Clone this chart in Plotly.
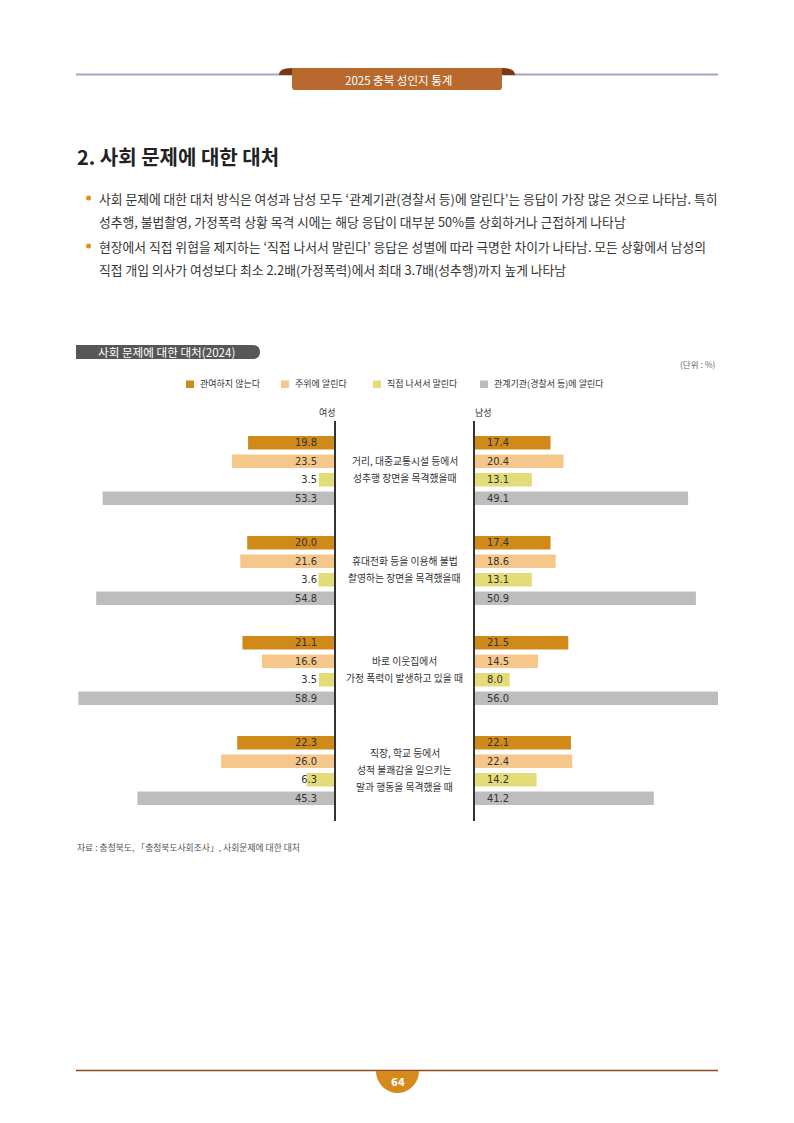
import plotly.graph_objects as go

# data (단위 : %)
situations = [
    "거리, 대중교통시설 등에서<br>성추행 장면을 목격했을때",
    "휴대전화 등을 이용해 불법<br>촬영하는 장면을 목격했을때",
    "바로 이웃집에서<br>가정 폭력이 발생하고 있을 때",
    "직장, 학교 등에서<br>성적 불쾌감을 일으키는<br>말과 행동을 목격했을 때",
]
responses = ["관여하지 않는다", "주위에 알린다", "직접 나서서 말린다", "관계기관(경찰서 등)에 알린다"]

women_none = [19.8, 20.0, 21.1, 22.3]
women_tell = [23.5, 21.6, 16.6, 26.0]
women_direct = [3.5, 3.6, 3.5, 6.3]
women_agency = [53.3, 54.8, 58.9, 45.3]

men_none = [17.4, 17.4, 21.5, 22.1]
men_tell = [20.4, 18.6, 14.5, 22.4]
men_direct = [13.1, 13.1, 8.0, 14.2]
men_agency = [49.1, 50.9, 56.0, 41.2]

women = [women_none, women_tell, women_direct, women_agency]
men = [men_none, men_tell, men_direct, men_agency]
colors = ["#d08a1a", "#f5c78b", "#e4dc78", "#bdbdbd"]

PAGE_W, PAGE_H = 794, 1123
OFF = 8  # the browser's body margin
W, H = PAGE_W - OFF, PAGE_H - OFF
KR = "Noto Sans CJK KR"
NUM = "DejaVu Sans Condensed"


def px(x):
    return (x - OFF) / W


def py(y):
    return 1 - (y - OFF) / H


def path(points):
    # points in page pixels -> paper path
    out = []
    for cmd, *xy in points:
        coords = " ".join(f"{px(xy[i]):.5f},{py(xy[i + 1]):.5f}" for i in range(0, len(xy), 2))
        out.append(f"{cmd}{coords}")
    return " ".join(out) + " Z"


fig = go.Figure()

PX_PER = 4.34  # pixels per percent
LEFT_AXIS, RIGHT_AXIS = 334, 475
LABEL_L, LABEL_R = 14 / PX_PER, 9 / PX_PER  # label carriers

for i in range(4):
    fig.add_trace(go.Bar(
        y=situations, x=women[i], orientation="h", marker_color=colors[i],
        marker_line_width=0, offsetgroup=str(i), xaxis="x", yaxis="y",
        showlegend=False, hoverinfo="skip",
    ))
    fig.add_trace(go.Bar(
        y=situations, x=men[i], orientation="h", marker_color=colors[i],
        marker_line_width=0, offsetgroup=str(i), xaxis="x2", yaxis="y2",
        showlegend=False, hoverinfo="skip",
    ))
for i in range(4):
    fig.add_trace(go.Bar(
        y=situations, x=[LABEL_L] * len(situations), orientation="h",
        marker_color="rgba(0,0,0,0)", marker_line_width=0, offsetgroup=str(i),
        xaxis="x", yaxis="y",
        text=[f"{v:.1f}" for v in women[i]], textposition="outside",
        textangle=0, constraintext="none", cliponaxis=False,
        textfont=dict(family=NUM, size=11, color="#333333"),
        showlegend=False, hoverinfo="skip",
    ))
    fig.add_trace(go.Bar(
        y=situations, x=[LABEL_R] * len(situations), orientation="h",
        marker_color="rgba(0,0,0,0)", marker_line_width=0, offsetgroup=str(i),
        xaxis="x2", yaxis="y2",
        text=[f"{v:.1f}" for v in men[i]], textposition="outside",
        textangle=0, constraintext="none", cliponaxis=False,
        textfont=dict(family=NUM, size=11, color="#333333"),
        showlegend=False, hoverinfo="skip",
    ))

ydom = [py(820.5), py(420.5)]
axis_common = dict(showgrid=False, zeroline=False, showticklabels=False, fixedrange=True)

fig.update_layout(
    width=W, height=H,
    margin=dict(l=0, r=0, t=0, b=0),
    paper_bgcolor="white", plot_bgcolor="rgba(0,0,0,0)",
    barmode="group", bargap=0.26, bargroupgap=0.27,
    font=dict(family=KR, color="#333333"),
    xaxis=dict(domain=[0, px(LEFT_AXIS)], range=[(LEFT_AXIS - OFF) / PX_PER, 0], **axis_common),
    xaxis2=dict(domain=[px(RIGHT_AXIS), 1], range=[0, (PAGE_W - RIGHT_AXIS) / PX_PER], **axis_common),
    yaxis=dict(domain=ydom, type="category", autorange="reversed", anchor="x", side="right",
               showline=True, linecolor="#333333", linewidth=1.5, ticks="", **axis_common),
    yaxis2=dict(domain=ydom, type="category", autorange="reversed", anchor="x2", side="left",
                showline=True, linecolor="#333333", linewidth=1.5, ticks="", **axis_common),
)

shapes = []
ann = []


def note(text, x, y, size, color="#333333", xanchor="center", **kw):
    ann.append(dict(text=text, x=px(x), y=py(y), xref="paper", yref="paper", xanchor=xanchor,
                    yanchor="middle", showarrow=False, font=dict(size=size, color=color, **kw)))


def shape(**kw):
    kw.setdefault("xref", "paper")
    kw.setdefault("yref", "paper")
    kw.setdefault("layer", "below")
    shapes.append(kw)


# page header
shape(type="line", x0=px(76), x1=px(718), y0=py(74.5), y1=py(74.5), line=dict(color="#a7a3c3", width=2))
shape(type="path", line_width=0, fillcolor="#7a3810",
      path=path([("M", 279, 75), ("Q", 279, 68, 292, 68), ("L", 292, 75)]))
shape(type="path", line_width=0, fillcolor="#7a3810",
      path=path([("M", 515, 75), ("Q", 515, 68, 502, 68), ("L", 502, 75)]))
shape(type="path", line_width=0, fillcolor="#b8692e",
      path=path([("M", 292, 68), ("L", 502, 68), ("L", 502, 87), ("Q", 502, 90, 499, 90),
                 ("L", 295, 90), ("Q", 292, 90, 292, 87)]))
note("2025 충북 성인지 통계", 398, 80, 11.5, color="white")

# section title and bullets
note("<b>2. 사회 문제에 대한 대처</b>", 75, 157, 20, color="#222222", xanchor="left")
bullet_lines = [
    ("사회 문제에 대한 대처 방식은 여성과 남성 모두 ‘관계기관(경찰서 등)에 알린다’는 응답이 가장 많은 것으로 나타남. 특히", True, 198),
    ("성추행, 불법촬영, 가정폭력 상황 목격 시에는 해당 응답이 대부분 50%를 상회하거나 근접하게 나타남", False, 221),
    ("현장에서 직접 위협을 제지하는 ‘직접 나서서 말린다’ 응답은 성별에 따라 극명한 차이가 나타남. 모든 상황에서 남성의", True, 246),
    ("직접 개입 의사가 여성보다 최소 2.2배(가정폭력)에서 최대 3.7배(성추행)까지 높게 나타남", False, 270),
]
for txt, dot, y in bullet_lines:
    note(txt, 97, y, 12.8, xanchor="left")
    if dot:
        shape(type="circle", line_width=0, fillcolor="#e0901c",
              x0=px(86), x1=px(91), y0=py(y + 2.5), y1=py(y - 2.5))

# chart title pill
shape(type="path", line_width=0, fillcolor="#575757",
      path=path([("M", 76, 345), ("L", 252, 345), ("Q", 260, 345, 260, 352),
                 ("Q", 260, 359, 252, 359), ("L", 76, 359)]))
note("사회 문제에 대한 대처(2024)", 166, 352, 11.6, color="white")
note("(단위 : %)", 718, 364, 8.5, color="#666666", xanchor="right")

# legend
legend_x = [186, 281, 373, 480]
for name, col, lx in zip(responses, colors, legend_x):
    shape(type="rect", line_width=0, fillcolor=col, x0=px(lx), x1=px(lx + 8), y0=py(388), y1=py(380.5))
    note(name, lx + 11.5, 384, 9, xanchor="left")

note("여성", 327, 413, 9)
note("남성", 483, 413, 9)

# situation labels between the two sides
for s in situations:
    lines = s.split("<br>")
    n = len(lines)
    for k, line in enumerate(lines):
        ann.append(dict(text=line, x=px((LEFT_AXIS + RIGHT_AXIS) / 2), y=s, xref="paper", yref="y",
                        xanchor="center", yanchor="middle",
                        yshift=((n - 1) / 2 - k) * 17 + 1, showarrow=False,
                        font=dict(size=9.8, color="#333333")))

# source
note("자료 : 충청북도, 「충청북도사회조사」, 사회문제에 대한 대처", 75, 847, 8.8, color="#555555", xanchor="left")

# page footer
shape(type="line", x0=px(76), x1=px(718), y0=py(1070.5), y1=py(1070.5), line=dict(color="#8c4a1c", width=1.5))
shape(type="path", line_width=0, fillcolor="#d58a1c",
      path=path([("M", 376, 1071), ("C", 376, 1083, 386, 1093, 397.5, 1093),
                 ("C", 409, 1093, 419, 1083, 419, 1071)]))
note("<b>64</b>", 397.5, 1082, 11, color="white", family=NUM)

fig.update_layout(shapes=shapes, annotations=ann)

fig.write_html("out.html")
